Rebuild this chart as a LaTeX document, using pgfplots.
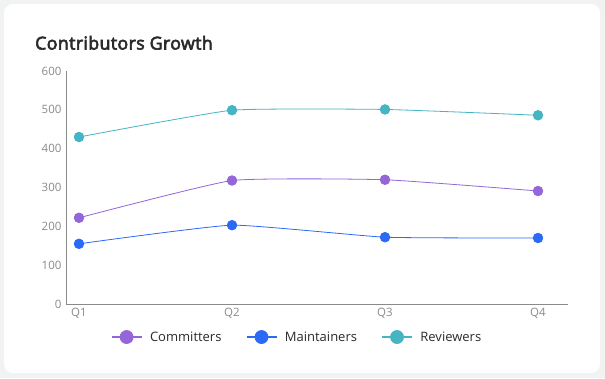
\documentclass[border=0pt]{standalone}
\usepackage{fontspec}
\setmainfont{Open Sans}
\newfontfamily\semib{Open Sans}[FakeBold=3.5, LetterSpace=2]
\usepackage{pgfplots}
\pgfplotsset{compat=1.18}
\definecolor{bgc}{HTML}{F1F3F3}
\definecolor{cmt}{HTML}{9466D8}
\definecolor{mnt}{HTML}{2A6AF5}
\definecolor{rev}{HTML}{45B5C4}
\definecolor{axc}{HTML}{8A8A8A}
\definecolor{tickc}{HTML}{8A8A8A}
\definecolor{titc}{HTML}{2B2B2B}
\begin{document}
\begin{tikzpicture}[x=1pt,y=1pt]
\fill[bgc] (0,0) rectangle (605,378);
\fill[white,rounded corners=9pt] (4,5) rectangle (600,374);
\node[anchor=base west,inner sep=0pt,text=titc,font=\fontsize{17.8}{20}\selectfont\semib] at (35,328.5) {Contributors Growth};
\begin{axis}[
  at={(66pt,74pt)}, anchor=south west,
  scale only axis, width=502pt, height=233pt,
  xmin=-0.085, xmax=3.196, ymin=0, ymax=600,
  axis lines=left, axis line style={axc, line width=0.9pt, -},
  xtick={0,1,2,3}, xticklabels={Q1,Q2,Q3,Q4},
  ytick={0,100,...,600},
  major tick length=0pt,
  tick label style={text=tickc, font=\fontsize{11.5}{13}\selectfont},
  xticklabel style={yshift=-1pt},
  yticklabel style={xshift=-1pt},
  /pgf/number format/assume math mode=true,
  clip=false,
  legend columns=3,
  legend style={at={(0.46,-0.1)}, anchor=north, draw=none, fill=none,
    font=\fontsize{13}{15}\selectfont, text=titc,
    /tikz/every even column/.append style={column sep=22pt}},
  legend image code/.code={
    \draw[#1, line width=2pt, mark=none] (0pt,0pt) -- (30pt,0pt);
    \fill[#1] (15pt,0pt) circle (6.5pt);
    \path (36pt,0pt);
  },
  every axis plot/.append style={smooth, tension=0.25, line width=0.8pt},
]
\addplot[cmt, mark=*, mark size=4.8pt, mark options={fill=cmt, draw=none}] coordinates {(0,222) (1,318) (2,320) (3,291)};
\addlegendentry{Committers}
\addplot[mnt, mark=*, mark size=4.8pt, mark options={fill=mnt, draw=none}] coordinates {(0,155) (1,203) (2,172) (3,170)};
\addlegendentry{Maintainers}
\addplot[rev, mark=*, mark size=4.8pt, mark options={fill=rev, draw=none}] coordinates {(0,430) (1,499) (2,501) (3,486)};
\addlegendentry{Reviewers}
\end{axis}
\end{tikzpicture}
\end{document}
